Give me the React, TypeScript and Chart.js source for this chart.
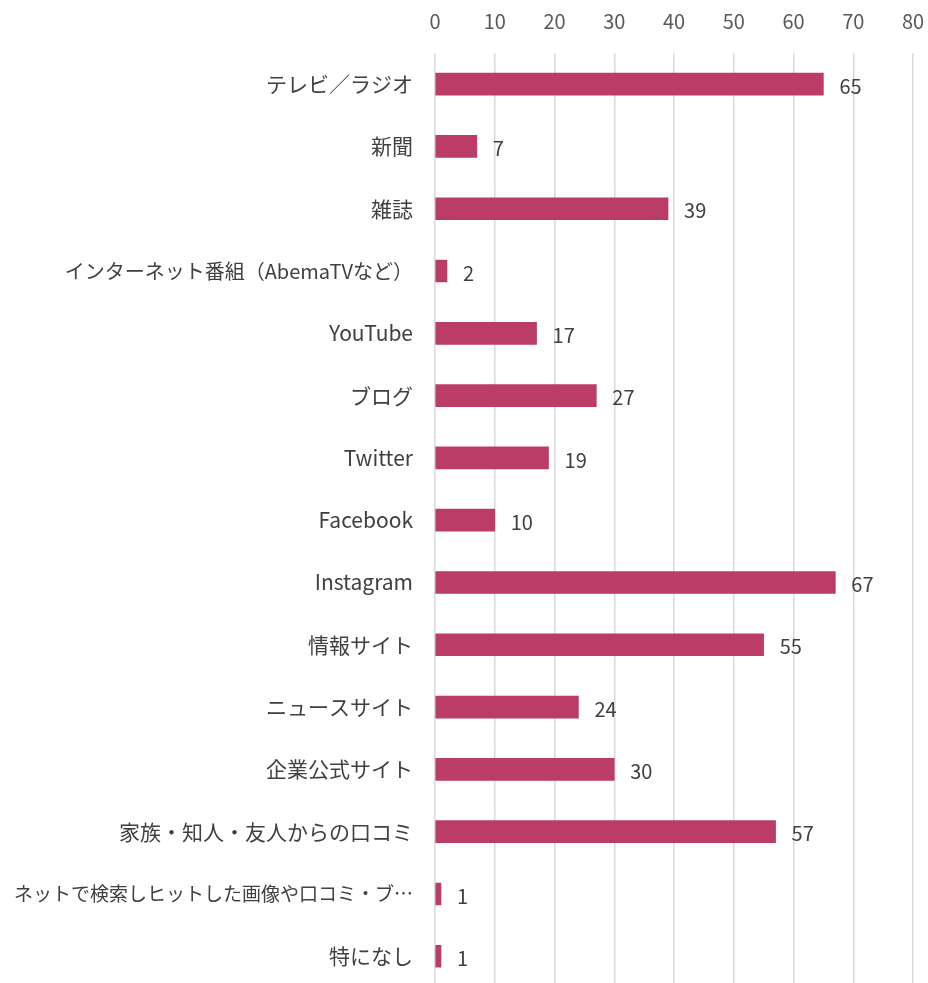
import React, { useEffect, useRef } from "react";
import { Chart, registerables } from "chart.js";

Chart.register(...registerables);

const categories: string[] = [
  "テレビ／ラジオ",
  "新聞",
  "雑誌",
  "インターネット番組（AbemaTVなど）",
  "YouTube",
  "ブログ",
  "Twitter",
  "Facebook",
  "Instagram",
  "情報サイト",
  "ニュースサイト",
  "企業公式サイト",
  "家族・知人・友人からの口コミ",
  "ネットで検索しヒットした画像や口コミ・ブ…",
  "特になし",
];

const values: number[] = [65, 7, 39, 2, 17, 27, 19, 10, 67, 55, 24, 30, 57, 1, 1];

const xTicksMax = 80;
const xTickStep = 10;

const FONT = "'Noto Sans CJK JP', 'Noto Sans', sans-serif";

const dataLabelPlugin = {
  id: "dataLabels",
  afterDatasetsDraw(chart: any) {
    const ctx = chart.ctx;
    const meta = chart.getDatasetMeta(0);
    ctx.save();
    ctx.font = `20px ${FONT}`;
    ctx.fillStyle = "#404040";
    ctx.textAlign = "left";
    ctx.textBaseline = "middle";
    meta.data.forEach((bar: any, i: number) => {
      ctx.fillText(String(values[i]), bar.x + 16, bar.y + 2);
    });
    ctx.restore();
  },
};

export default function App() {
  const ref = useRef<HTMLCanvasElement | null>(null);
  useEffect(() => {
    if (!ref.current) return;
    const chart = new Chart(ref.current, {
      type: "bar",
      data: {
        labels: categories,
        datasets: [
          {
            data: values,
            backgroundColor: "#BA3C67",
            borderWidth: 0,
            barThickness: 22,
          },
        ],
      },
      options: {
        indexAxis: "y",
        animation: false,
        responsive: false,
        maintainAspectRatio: false,
        layout: { padding: { top: 0, right: 15, bottom: 0, left: 0 } },
        plugins: {
          legend: { display: false },
          tooltip: { enabled: false },
        },
        scales: {
          x: {
            position: "top",
            min: 0,
            max: xTicksMax,
            ticks: {
              stepSize: xTickStep,
              color: "#595959",
              font: { family: FONT, size: 20 },
              padding: 20,
              maxRotation: 0,
            },
            grid: {
              color: "#d9d9d9",
              lineWidth: 1.5,
              drawTicks: false,
            },
            border: { display: false },
            afterFit(scale: any) {
              scale.height = 53;
              scale.paddingLeft = 0;
              scale.paddingRight = 0;
            },
          },
          y: {
            ticks: {
              color: "#404040",
              font: (ctx: any) => ({
                family: FONT,
                size: ctx.index === 13 ? 19 : ctx.index === 3 ? 20 : 21,
              }),
              padding: 22,
              autoSkip: false,
            },
            grid: { display: false, drawTicks: false },
            border: { display: false },
            afterFit(scale: any) {
              scale.width = 435;
            },
          },
        },
      },
      plugins: [dataLabelPlugin],
    });
    return () => chart.destroy();
  }, []);
  return (
    <div style={{ position: "absolute", left: 0, top: 0, width: 928, height: 983, overflow: "hidden", background: "#fff" }}>
      <canvas ref={ref} width={928} height={1022} style={{ display: "block" }} />
    </div>
  );
}
